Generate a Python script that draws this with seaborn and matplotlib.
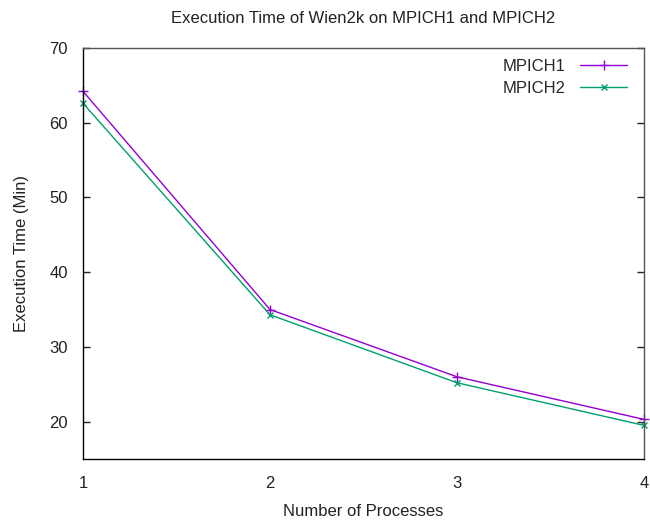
import matplotlib
matplotlib.use('Agg')
import matplotlib.pyplot as plt
import seaborn as sns
import pandas as pd

processes = [1, 2, 3, 4]
mpich1 = [64.2, 35.0, 26.0, 20.3]
mpich2 = [62.6, 34.3, 25.2, 19.5]

sns.set_theme(style='white')
plt.rcParams['font.family'] = ['Liberation Sans', 'DejaVu Sans']

df = pd.DataFrame({
    'Number of Processes': processes * 2,
    'Execution Time (Min)': mpich1 + mpich2,
    'series': ['MPICH1'] * 4 + ['MPICH2'] * 4,
})

fig = plt.figure(figsize=(6.5, 5.21), dpi=100)
ax = fig.add_axes([0.1277, 0.119, 0.863, 0.789])

palette = {'MPICH1': '#9400D3', 'MPICH2': '#009E73'}
markers = {'MPICH1': '+', 'MPICH2': 'x'}
sizes = {'MPICH1': 7, 'MPICH2': 5}
for name in ['MPICH1', 'MPICH2']:
    sub = df[df['series'] == name]
    sns.lineplot(data=sub, x='Number of Processes', y='Execution Time (Min)',
                 color=palette[name], marker=markers[name], markersize=sizes[name],
                 markeredgewidth=1, markeredgecolor=palette[name],
                 linewidth=1, label=name, ax=ax, clip_on=False)

ax.set_xlim(1, 4)
ax.set_ylim(15, 70)
ax.set_xticks([1, 2, 3, 4])
ax.set_yticks([20, 30, 40, 50, 60, 70])
ax.tick_params(direction='in', length=5, width=1, colors='#222222',
               labelsize=12, right=True, left=True, bottom=False, pad=11)
ax.tick_params(axis='x', pad=12)
for s in ['left', 'bottom']:
    ax.spines[s].set_color('black')
for s in ['top', 'right']:
    ax.spines[s].set_color('#555555')
for s in ax.spines.values():
    s.set_linewidth(1)

ax.set_xlabel('Number of Processes', fontsize=12, color='#222222', va='center')
ax.set_ylabel('Execution Time (Min)', fontsize=12, color='#222222', va='center')
ax.xaxis.set_label_coords(0.5, -0.127)
ax.yaxis.set_label_coords(-0.110, 0.5)
ax.set_title('Execution Time of Wien2k on MPICH1 and MPICH2',
             fontsize=12, color='#222222', pad=18)

leg = ax.legend(loc='upper right', bbox_to_anchor=(0.9697, 0.973),
                frameon=False, fontsize=12, markerfirst=False,
                handlelength=2.8, handletextpad=0.9, borderaxespad=0,
                borderpad=0, labelspacing=0.4)

fig.savefig('out.png', dpi=100)
